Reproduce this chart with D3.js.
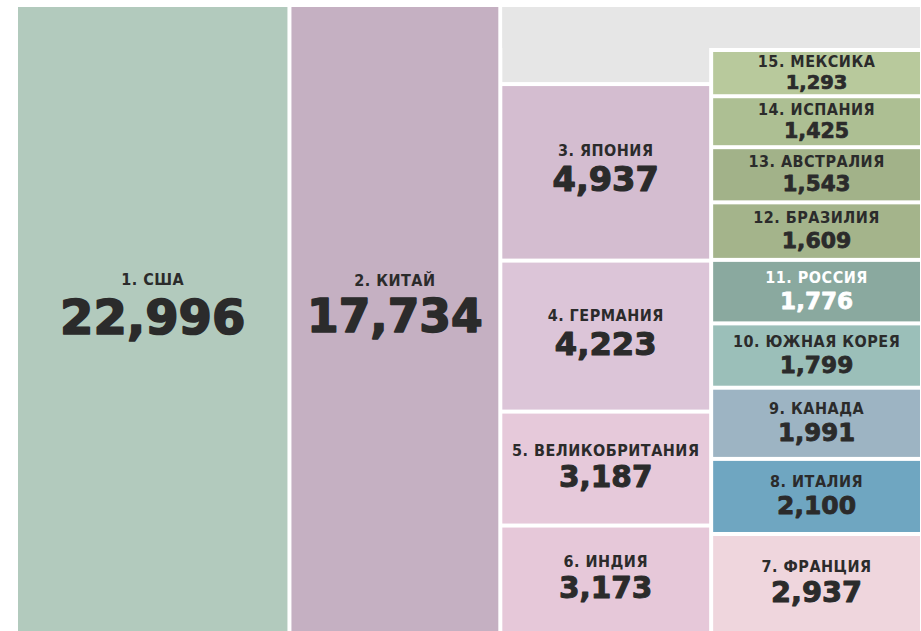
<!DOCTYPE html>
<html>
<head>
<meta charset="utf-8">
<script src="https://cdn.jsdelivr.net/npm/d3@7"></script>
<style>
  body { margin: 0; background: #fff; }
</style>
</head>
<body>
<div id="canvas"></div>
<script>
var w = 921;
var h = 631;

// data
var countries = ["США", "КИТАЙ", "ЯПОНИЯ", "ГЕРМАНИЯ", "ВЕЛИКОБРИТАНИЯ", "ИНДИЯ",
  "ФРАНЦИЯ", "ИТАЛИЯ", "КАНАДА", "ЮЖНАЯ КОРЕЯ", "РОССИЯ", "БРАЗИЛИЯ",
  "АВСТРАЛИЯ", "ИСПАНИЯ", "МЕКСИКА"];
var values = [22996, 17734, 4937, 4223, 3187, 3173, 2937, 2100, 1991, 1799, 1776, 1609, 1543, 1425, 1293];

// which country sits in which column (top to bottom)
var columns = [[0], [1], [2, 3, 4, 5], [14, 13, 12, 11, 10, 9, 8, 7, 6]];

var colors = ["#b2cabd", "#c5b0c2", "#d4bdd0", "#dcc5d8", "#e6c9da", "#e6c8d9",
  "#efd6dd", "#6fa6c1", "#9db4c3", "#9bbfb9", "#8aa99f", "#a4b48b",
  "#a2b289", "#adbf93", "#b8c99c"];
var whiteText = [10];

var leftX = 18, topY = 7, gap = 4;
var slotH = 634;       // slot height incl. gap, runs past bottom edge
var stripH = 45;       // grey strip over the tallest stack
var totalW = 906;

var svg = d3.select("#canvas").append("svg")
  .attr("width", w)
  .attr("height", h)
  .style("display", "block");

// stacked columns: vertical px per unit
var stackTotals = columns.slice(2).map(function(c){ return d3.sum(c, function(i){ return values[i]; }); });
var stackY = d3.scaleLinear()
  .domain([0, d3.max(stackTotals)])
  .range([0, slotH - stripH]);
var slope = stackY(1) - stackY(0);

// single columns share the same area per unit
var singleSum = values[0] + values[1];
var cw = totalW / (singleSum * slope / slotH + 2);
var singleX = d3.scaleLinear()
  .domain([0, singleSum])
  .range([leftX, leftX + singleSum * cw * slope / slotH]);

var boxes = [];
boxes.push({i: 0, x0: singleX(0), x1: singleX(values[0]), y0: topY, y1: topY + slotH});
boxes.push({i: 1, x0: singleX(values[0]), x1: singleX(singleSum), y0: topY, y1: topY + slotH});

var stackTops = [];
columns.slice(2).forEach(function(col, k){
  var x0 = singleX(singleSum) + k * cw;
  var yBottom = topY + slotH;
  var y = yBottom - stackY(stackTotals[k]);
  stackTops.push({x0: x0, y: y});
  col.forEach(function(i){
    var hh = stackY(values[i]);
    boxes.push({i: i, x0: x0, x1: x0 + cw, y0: y, y1: y + hh});
    y += hh;
  });
});

// grey filler above the stacks
var greyX0 = stackTops[0].x0;
var greyX1 = stackTops[1].x0 + cw - gap;
svg.append("rect")
  .attr("x", greyX0).attr("y", topY)
  .attr("width", greyX1 - greyX0)
  .attr("height", stackTops[1].y - gap - topY)
  .attr("fill", "#e6e6e6");
svg.append("rect")
  .attr("x", greyX0).attr("y", topY)
  .attr("width", cw - gap)
  .attr("height", stackTops[0].y - gap - topY)
  .attr("fill", "#e6e6e6");

svg.selectAll("rect.box")
  .data(boxes)
  .join("rect")
  .attr("class", "box")
  .attr("x", function(d){ return d.x0; })
  .attr("y", function(d){ return d.y0; })
  .attr("width", function(d){ return d.x1 - d.x0 - gap; })
  .attr("height", function(d){ return d.y1 - d.y0 - gap; })
  .attr("fill", function(d){ return colors[d.i]; });

var numSize = d3.scaleLog()
  .domain([1293, 3000, 22996])
  .range([19.5, 29, 48]);
var labelSize = 16;
var fmt = d3.format(",");

var labels = svg.selectAll("g.lab")
  .data(boxes)
  .join("g")
  .attr("class", "lab")
  .each(function(d){
    var g = d3.select(this);
    var ns = numSize(values[d.i]);
    var lc = labelSize * 0.729, nc = ns * 0.729, gp = ns * 0.2 + 4;
    var bottom = Math.min(d.y1 - gap, h);
    // text block sits slightly above the middle of the visible box
    var cy = (d.y0 + bottom) / 2 - (bottom - d.y0) * 0.025;
    var block = lc + gp + nc;
    var cx = (d.x0 + d.x1 - gap) / 2;
    var col = whiteText.indexOf(d.i) >= 0 ? "#ffffff" : "#2b2b2b";
    g.append("text")
      .attr("x", cx)
      .attr("y", cy - block / 2 + lc)
      .attr("text-anchor", "middle")
      .style("font-family", "'DejaVu Sans Condensed', 'Liberation Sans Narrow', sans-serif")
      .style("font-weight", "bold")
      .style("font-size", labelSize + "px")
      .style("letter-spacing", "0.5px")
      .attr("fill", col)
      .text((d.i + 1) + ". " + countries[d.i]);
    g.append("text")
      .attr("x", cx)
      .attr("y", cy + block / 2)
      .attr("text-anchor", "middle")
      .style("font-family", "'DejaVu Sans', sans-serif")
      .style("font-weight", "bold")
      .style("font-size", ns + "px")
      .attr("fill", col)
      .attr("stroke", col)
      .attr("stroke-width", ns * 0.035)
      .attr("stroke-linejoin", "round")
      .text(fmt(values[d.i]));
  });
</script>
</body>
</html>
